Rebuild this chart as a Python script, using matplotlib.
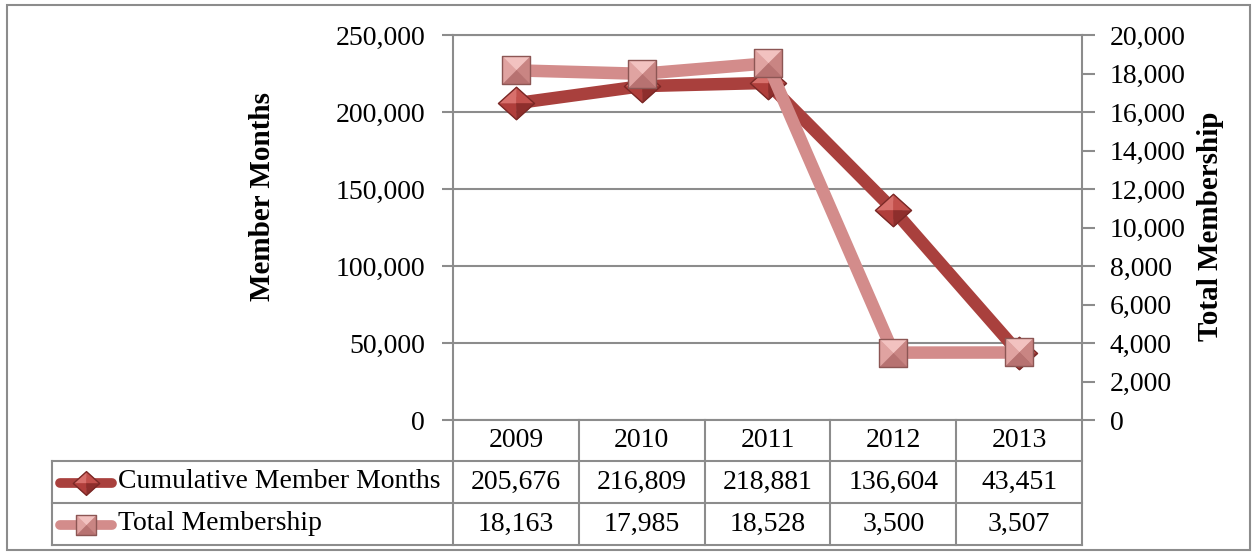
import matplotlib
matplotlib.use("Agg")
import matplotlib.pyplot as plt
import numpy as np
from matplotlib.lines import Line2D
from matplotlib.patches import Rectangle
from matplotlib.path import Path
from matplotlib.ticker import FuncFormatter, MultipleLocator
from matplotlib import transforms

plt.rcParams["font.family"] = ["Liberation Serif", "DejaVu Serif"]

years = ["2009", "2010", "2011", "2012", "2013"]
member_months = [205676, 216809, 218881, 136604, 43451]
total_membership = [18163, 17985, 18528, 3500, 3507]
series_names = ["Cumulative Member Months", "Total Membership"]

W, H = 1255, 554
GRAY = "#8c8c8c"
DARK = "#a9403d"
PINK = "#d38c8b"
FS = 20


def fx(px):
    return px / W


def fy(py):
    return 1 - py / H


def fmt(v, _=None):
    return f"{v:,.0f}"


# beveled marker faces, each triangle shares the centre point
SQ = [[(-1, 1), (1, 1), (0, 0)], [(-1, -1), (-1, 1), (0, 0)],
      [(1, 1), (1, -1), (0, 0)], [(-1, -1), (1, -1), (0, 0)]]
SQ_COLORS = ["#f2c2c0", "#e0a3a1", "#c98583", "#b77271"]
SQ_OUTLINE = [(-1, -1), (1, -1), (1, 1), (-1, 1), (-1, -1)]

DI = [[(-1, 0), (0, 0.9), (0, 0)], [(0, 0.9), (1, 0), (0, 0)],
      [(-1, 0), (0, -0.9), (0, 0)], [(1, 0), (0, -0.9), (0, 0)]]
DI_COLORS = ["#d8706c", "#c2504c", "#b03e3b", "#8e2e2c"]
DI_OUTLINE = [(-1, 0), (0, 0.9), (1, 0), (0, -0.9), (-1, 0)]


def bevel(ax, x, y, faces, colors, outline, ms, edge, **kw):
    for tri, c in zip(faces, colors):
        verts = tri + [tri[0]]
        ax.plot(x, y, ls="none", marker=Path(verts, closed=True), ms=ms,
                mfc=c, mec=c, mew=0.4, clip_on=False, **kw)
    ax.plot(x, y, ls="none", marker=Path(outline, closed=True), ms=ms,
            mfc="none", mec=edge, mew=1.0, clip_on=False, **kw)


fig = plt.figure(figsize=(W / 100, H / 100), dpi=100)
fig.add_artist(Rectangle((fx(7), fy(550)), fx(1250) - fx(7), fy(5) - fy(550),
                         transform=fig.transFigure, fill=False, ec=GRAY, lw=1.5))

ax = fig.add_axes([fx(453), fy(420), fx(1082) - fx(453), fy(35) - fy(420)])
x = np.arange(len(years))
ax.set_xlim(-0.5, len(years) - 0.5)
ax.set_ylim(0, 250000)
ax.yaxis.set_major_locator(MultipleLocator(50000))
ax.yaxis.set_major_formatter(FuncFormatter(fmt))
ax.grid(axis="y", color=GRAY, lw=1.5)
ax.set_axisbelow(True)
ax.set_xticks([])
for s in ax.spines.values():
    s.set_color(GRAY)
    s.set_linewidth(1.5)
ax.spines["right"].set_visible(False)
ax.tick_params(axis="y", direction="out", length=8, width=1.5, color=GRAY,
               pad=12, labelsize=FS)

ax.plot(x, member_months, color=DARK, lw=9, solid_capstyle="butt", zorder=2)
bevel(ax, x, member_months, DI, DI_COLORS, DI_OUTLINE, 26, "#7a2826", zorder=3)

ax2 = ax.twinx()
ax2.set_ylim(0, 20000)
ax2.yaxis.set_major_locator(MultipleLocator(2000))
ax2.yaxis.set_major_formatter(FuncFormatter(fmt))
for s in ax2.spines.values():
    s.set_visible(False)
ax2.spines["right"].set_visible(True)
ax2.spines["right"].set_color(GRAY)
ax2.spines["right"].set_linewidth(1.5)
ax2.tick_params(axis="y", direction="out", length=9, width=1.5, color=GRAY,
                pad=11, labelsize=FS)
ax2.plot(x, total_membership, color=PINK, lw=9, solid_capstyle="butt", zorder=2)
bevel(ax2, x, total_membership, SQ, SQ_COLORS, SQ_OUTLINE, 19.5, "#8c5654", zorder=3)

fig.text(fx(263), fy(197), "Member Months", rotation=90, ha="center", va="center",
         fontsize=21, fontweight="bold")
fig.text(fx(1210), fy(226), "Total Membership", rotation=90, ha="center", va="center",
         fontsize=21, fontweight="bold")

# data table below the plot
tcol = transforms.blended_transform_factory(ax.transData, fig.transFigure)
row_top, row1, row2, row_bot = 420, 461, 503, 545
for b in np.arange(len(years) + 1) - 0.5:
    fig.add_artist(Line2D([b, b], [fy(row_top), fy(row_bot)], transform=tcol,
                          color=GRAY, lw=1.5))
for yy in (row1, row2, row_bot):
    fig.add_artist(Line2D([fx(52), fx(1082)], [fy(yy), fy(yy)],
                          transform=fig.transFigure, color=GRAY, lw=1.5))
fig.add_artist(Line2D([fx(52), fx(52)], [fy(row1), fy(row_bot)],
                      transform=fig.transFigure, color=GRAY, lw=1.5))

for i, yr in enumerate(years):
    fig.text(x[i], fy((row_top + row1) / 2), yr, transform=tcol, ha="center",
             va="center", fontsize=FS)
    fig.text(x[i], fy((row1 + row2) / 2), fmt(member_months[i]), transform=tcol,
             ha="center", va="center", fontsize=FS)
    fig.text(x[i], fy((row2 + row_bot) / 2), fmt(total_membership[i]), transform=tcol,
             ha="center", va="center", fontsize=FS)

# legend keys inside the table
kax = fig.add_axes([0, 0, 1, 1], facecolor="none")
kax.set_xlim(0, W)
kax.set_ylim(H, 0)
kax.axis("off")
for yy, col, name in ((row1, DARK, series_names[0]), (row2, PINK, series_names[1])):
    cy = (yy + (row2 if yy == row1 else row_bot)) / 2 + 1
    kax.plot([60, 112], [cy, cy], color=col, lw=7, solid_capstyle="round")
    kax.text(118, cy - 1, name, ha="left", va="center", fontsize=FS)
bevel(kax, [86], [(row1 + row2) / 2 + 1], DI, DI_COLORS, DI_OUTLINE, 19, "#7a2826")
bevel(kax, [86], [(row2 + row_bot) / 2 + 1], SQ, SQ_COLORS, SQ_OUTLINE, 14, "#8c5654")

fig.savefig("out.png", dpi=100)
